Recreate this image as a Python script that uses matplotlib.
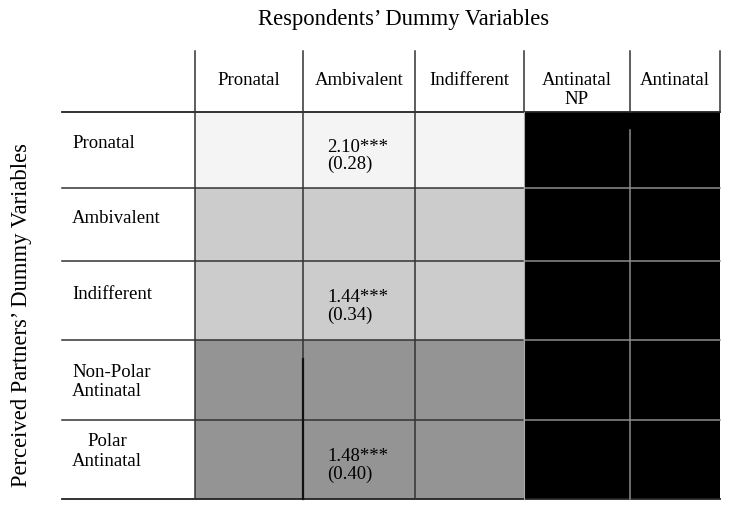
import matplotlib.pyplot as plt
from matplotlib.patches import Rectangle

plt.rcParams['font.family'] = ['Liberation Serif', 'DejaVu Serif']

# data
col_labels = ['Pronatal', 'Ambivalent', 'Indifferent', 'Antinatal\nNP', 'Antinatal']
row_labels = ['Pronatal', 'Ambivalent', 'Indifferent', 'Non-Polar\nAntinatal', 'Polar\nAntinatal']
row_shades = ['#f4f4f4', '#cccccc', '#cccccc', '#949494', '#949494']
black_cols = [3, 4]
coef_rows = [0, 2, 4]
coef_col = 1
coef_vals = ['2.10***', '1.44***', '1.48***']
coef_se = ['(0.28)', '(0.34)', '(0.40)']

# layout (pixel grid)
xs = [195, 303, 415, 524, 630, 720]
ys = [113, 189, 262, 341, 421, 500]
x_left = 62
y_top = 52
row_off = [-7, -7, -7, 1, -9]

fig = plt.figure(figsize=(7.45, 5.10), dpi=100)
ax = fig.add_axes([0, 0, 1, 1])
ax.set_xlim(0, 745)
ax.set_ylim(510, 0)
ax.axis('off')

# cells
for i in range(len(row_labels)):
    for j in range(len(col_labels)):
        c = 'black' if j in black_cols else row_shades[i]
        ax.add_patch(Rectangle((xs[j], ys[i]), xs[j+1]-xs[j], ys[i+1]-ys[i],
                               facecolor=c, edgecolor='none', zorder=1))

dark = '#333333'
grey = '#8c8c8c'
lw = 1.1

# horizontal lines
for k, y in enumerate(ys):
    if k == 0 or k == len(ys)-1:
        ax.plot([x_left, xs[-1]], [y, y], color='#222222', lw=1.3, zorder=3)
    else:
        ax.plot([x_left, xs[3]], [y, y], color=dark, lw=lw, zorder=3)
        ax.plot([xs[3], xs[-1]], [y, y], color=grey, lw=lw, zorder=3)

# vertical lines
for j, x in enumerate(xs):
    ax.plot([x, x], [y_top, ys[0]], color=dark, lw=lw, zorder=3)
    if j < 3:
        ax.plot([x, x], [ys[0], ys[-1]], color=dark, lw=lw, zorder=3)
    elif j == 3:
        ax.plot([x, x], [ys[0], ys[-1]], color='#aaaaaa', lw=0.8, zorder=3)
    elif j == 4:
        ax.plot([x, x], [131, ys[-1]], color=grey, lw=lw, zorder=3)
# thicker segment in lower rows
ax.plot([xs[1], xs[1]], [360, ys[-1]], color='#111111', lw=1.6, zorder=3)

fs = 13.5
# header labels
for j, lab in enumerate(col_labels):
    ax.text((xs[j]+xs[j+1])/2, 72, lab, ha='center', va='top', fontsize=fs,
            linespacing=1.15, zorder=4)

# row labels
for i, lab in enumerate(row_labels):
    yc = (ys[i]+ys[i+1])/2 + row_off[i]
    ax.text(72, yc, lab, ha='left', va='center', fontsize=fs,
            multialignment='center' if i == 4 else 'left', linespacing=1.2, zorder=4)

# coefficients
for r, v, s in zip(coef_rows, coef_vals, coef_se):
    yc = (ys[r]+ys[r+1])/2
    ax.text(xs[coef_col]+24, yc+5, v + '\n' + s, ha='left', va='center',
            fontsize=fs, linespacing=1.05, zorder=4)

# titles
ax.text(404, 19, 'Respondents\u2019 Dummy Variables', ha='center', va='center', fontsize=16.3)
ax.text(22, 315, 'Perceived Partners\u2019 Dummy Variables', ha='center', va='center',
        rotation=90, fontsize=16.3)

fig.savefig('out.png', dpi=100)
